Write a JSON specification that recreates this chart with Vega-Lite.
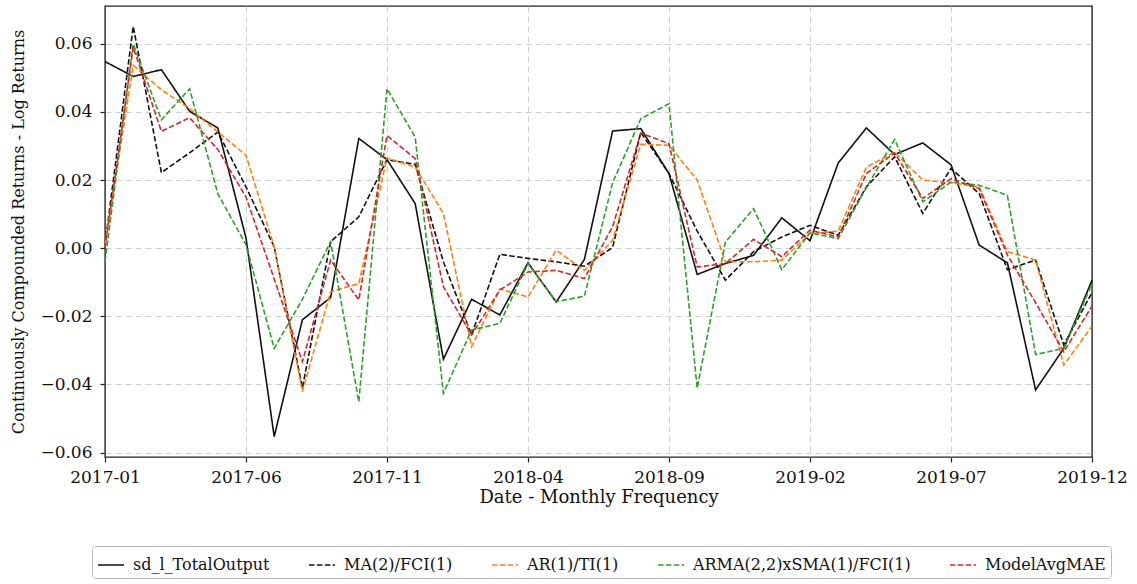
{
  "$schema": "https://vega.github.io/schema/vega-lite/v6.json",
  "width": 987,
  "height": 451,
  "autosize": "none",
  "padding": {"left": 105, "top": 6, "right": 45, "bottom": 127},
  "background": "white",
  "config": {
    "view": {"stroke": "#222", "strokeWidth": 1.4},
    "font": "DejaVu Serif"
  },
  "data": {
    "values": [
      {"month": "2017-01", "sd_l_TotalOutput": 0.0548, "MA(2)/FCI(1)": 0.001, "AR(1)/TI(1)": 0.001, "ARMA(2,2)xSMA(1)/FCI(1)": -0.004, "ModelAvgMAE": 0.0},
      {"month": "2017-02", "sd_l_TotalOutput": 0.0504, "MA(2)/FCI(1)": 0.0651, "AR(1)/TI(1)": 0.0537, "ARMA(2,2)xSMA(1)/FCI(1)": 0.06, "ModelAvgMAE": 0.059},
      {"month": "2017-03", "sd_l_TotalOutput": 0.0524, "MA(2)/FCI(1)": 0.0222, "AR(1)/TI(1)": 0.0465, "ARMA(2,2)xSMA(1)/FCI(1)": 0.0377, "ModelAvgMAE": 0.0343},
      {"month": "2017-04", "sd_l_TotalOutput": 0.0402, "MA(2)/FCI(1)": 0.028, "AR(1)/TI(1)": 0.041, "ARMA(2,2)xSMA(1)/FCI(1)": 0.0468, "ModelAvgMAE": 0.0383},
      {"month": "2017-05", "sd_l_TotalOutput": 0.0353, "MA(2)/FCI(1)": 0.0341, "AR(1)/TI(1)": 0.0341, "ARMA(2,2)xSMA(1)/FCI(1)": 0.016, "ModelAvgMAE": 0.029},
      {"month": "2017-06", "sd_l_TotalOutput": 0.003, "MA(2)/FCI(1)": 0.018, "AR(1)/TI(1)": 0.0273, "ARMA(2,2)xSMA(1)/FCI(1)": 0.001, "ModelAvgMAE": 0.015},
      {"month": "2017-07", "sd_l_TotalOutput": -0.0553, "MA(2)/FCI(1)": 0.0004, "AR(1)/TI(1)": 0.0004, "ARMA(2,2)xSMA(1)/FCI(1)": -0.0294, "ModelAvgMAE": -0.009},
      {"month": "2017-08", "sd_l_TotalOutput": -0.021, "MA(2)/FCI(1)": -0.041, "AR(1)/TI(1)": -0.0421, "ARMA(2,2)xSMA(1)/FCI(1)": -0.015, "ModelAvgMAE": -0.0333},
      {"month": "2017-09", "sd_l_TotalOutput": -0.0145, "MA(2)/FCI(1)": 0.0019, "AR(1)/TI(1)": -0.0128, "ARMA(2,2)xSMA(1)/FCI(1)": 0.0019, "ModelAvgMAE": -0.0035},
      {"month": "2017-10", "sd_l_TotalOutput": 0.0322, "MA(2)/FCI(1)": 0.0092, "AR(1)/TI(1)": -0.0104, "ARMA(2,2)xSMA(1)/FCI(1)": -0.0451, "ModelAvgMAE": -0.0152},
      {"month": "2017-11", "sd_l_TotalOutput": 0.026, "MA(2)/FCI(1)": 0.026, "AR(1)/TI(1)": 0.0265, "ARMA(2,2)xSMA(1)/FCI(1)": 0.0468, "ModelAvgMAE": 0.0331},
      {"month": "2017-12", "sd_l_TotalOutput": 0.0131, "MA(2)/FCI(1)": 0.0246, "AR(1)/TI(1)": 0.0238, "ARMA(2,2)xSMA(1)/FCI(1)": 0.0326, "ModelAvgMAE": 0.0263},
      {"month": "2018-01", "sd_l_TotalOutput": -0.0326, "MA(2)/FCI(1)": -0.004, "AR(1)/TI(1)": 0.0102, "ARMA(2,2)xSMA(1)/FCI(1)": -0.0426, "ModelAvgMAE": -0.0113},
      {"month": "2018-02", "sd_l_TotalOutput": -0.015, "MA(2)/FCI(1)": -0.0255, "AR(1)/TI(1)": -0.0289, "ARMA(2,2)xSMA(1)/FCI(1)": -0.024, "ModelAvgMAE": -0.0255},
      {"month": "2018-03", "sd_l_TotalOutput": -0.0196, "MA(2)/FCI(1)": -0.0018, "AR(1)/TI(1)": -0.012, "ARMA(2,2)xSMA(1)/FCI(1)": -0.0221, "ModelAvgMAE": -0.0123},
      {"month": "2018-04", "sd_l_TotalOutput": -0.0043, "MA(2)/FCI(1)": -0.003, "AR(1)/TI(1)": -0.0143, "ARMA(2,2)xSMA(1)/FCI(1)": -0.0045, "ModelAvgMAE": -0.007},
      {"month": "2018-05", "sd_l_TotalOutput": -0.0158, "MA(2)/FCI(1)": -0.004, "AR(1)/TI(1)": -0.0006, "ARMA(2,2)xSMA(1)/FCI(1)": -0.0157, "ModelAvgMAE": -0.0065},
      {"month": "2018-06", "sd_l_TotalOutput": -0.0033, "MA(2)/FCI(1)": -0.0053, "AR(1)/TI(1)": -0.0065, "ARMA(2,2)xSMA(1)/FCI(1)": -0.0141, "ModelAvgMAE": -0.0089},
      {"month": "2018-07", "sd_l_TotalOutput": 0.0344, "MA(2)/FCI(1)": 0.0002, "AR(1)/TI(1)": 0.0023, "ARMA(2,2)xSMA(1)/FCI(1)": 0.0192, "ModelAvgMAE": 0.0063},
      {"month": "2018-08", "sd_l_TotalOutput": 0.0351, "MA(2)/FCI(1)": 0.034, "AR(1)/TI(1)": 0.0305, "ARMA(2,2)xSMA(1)/FCI(1)": 0.038, "ModelAvgMAE": 0.0338},
      {"month": "2018-09", "sd_l_TotalOutput": 0.0219, "MA(2)/FCI(1)": 0.0219, "AR(1)/TI(1)": 0.0302, "ARMA(2,2)xSMA(1)/FCI(1)": 0.0424, "ModelAvgMAE": 0.0307},
      {"month": "2018-10", "sd_l_TotalOutput": -0.0077, "MA(2)/FCI(1)": 0.005, "AR(1)/TI(1)": 0.02, "ARMA(2,2)xSMA(1)/FCI(1)": -0.0411, "ModelAvgMAE": -0.0055},
      {"month": "2018-11", "sd_l_TotalOutput": -0.0045, "MA(2)/FCI(1)": -0.0094, "AR(1)/TI(1)": -0.004, "ARMA(2,2)xSMA(1)/FCI(1)": 0.0018, "ModelAvgMAE": -0.0045},
      {"month": "2018-12", "sd_l_TotalOutput": -0.0021, "MA(2)/FCI(1)": -0.001, "AR(1)/TI(1)": -0.004, "ARMA(2,2)xSMA(1)/FCI(1)": 0.0116, "ModelAvgMAE": 0.0026},
      {"month": "2019-01", "sd_l_TotalOutput": 0.0089, "MA(2)/FCI(1)": 0.0033, "AR(1)/TI(1)": -0.0035, "ARMA(2,2)xSMA(1)/FCI(1)": -0.0063, "ModelAvgMAE": -0.0025},
      {"month": "2019-02", "sd_l_TotalOutput": 0.0022, "MA(2)/FCI(1)": 0.0067, "AR(1)/TI(1)": 0.0043, "ARMA(2,2)xSMA(1)/FCI(1)": 0.0045, "ModelAvgMAE": 0.0053},
      {"month": "2019-03", "sd_l_TotalOutput": 0.025, "MA(2)/FCI(1)": 0.0038, "AR(1)/TI(1)": 0.005, "ARMA(2,2)xSMA(1)/FCI(1)": 0.0028, "ModelAvgMAE": 0.0033},
      {"month": "2019-04", "sd_l_TotalOutput": 0.0353, "MA(2)/FCI(1)": 0.018, "AR(1)/TI(1)": 0.0238, "ARMA(2,2)xSMA(1)/FCI(1)": 0.0178, "ModelAvgMAE": 0.0219},
      {"month": "2019-05", "sd_l_TotalOutput": 0.0275, "MA(2)/FCI(1)": 0.0268, "AR(1)/TI(1)": 0.0282, "ARMA(2,2)xSMA(1)/FCI(1)": 0.0319, "ModelAvgMAE": 0.028},
      {"month": "2019-06", "sd_l_TotalOutput": 0.0309, "MA(2)/FCI(1)": 0.0102, "AR(1)/TI(1)": 0.02, "ARMA(2,2)xSMA(1)/FCI(1)": 0.0136, "ModelAvgMAE": 0.0146},
      {"month": "2019-07", "sd_l_TotalOutput": 0.0245, "MA(2)/FCI(1)": 0.0234, "AR(1)/TI(1)": 0.0192, "ARMA(2,2)xSMA(1)/FCI(1)": 0.0194, "ModelAvgMAE": 0.0204},
      {"month": "2019-08", "sd_l_TotalOutput": 0.0009, "MA(2)/FCI(1)": 0.016, "AR(1)/TI(1)": 0.018, "ARMA(2,2)xSMA(1)/FCI(1)": 0.0185, "ModelAvgMAE": 0.0175},
      {"month": "2019-09", "sd_l_TotalOutput": -0.0043, "MA(2)/FCI(1)": -0.0063, "AR(1)/TI(1)": -0.001, "ARMA(2,2)xSMA(1)/FCI(1)": 0.0155, "ModelAvgMAE": -0.002},
      {"month": "2019-10", "sd_l_TotalOutput": -0.0416, "MA(2)/FCI(1)": -0.0035, "AR(1)/TI(1)": -0.0035, "ARMA(2,2)xSMA(1)/FCI(1)": -0.0312, "ModelAvgMAE": -0.016},
      {"month": "2019-11", "sd_l_TotalOutput": -0.0294, "MA(2)/FCI(1)": -0.0284, "AR(1)/TI(1)": -0.0343, "ARMA(2,2)xSMA(1)/FCI(1)": -0.0294, "ModelAvgMAE": -0.0304},
      {"month": "2019-12", "sd_l_TotalOutput": -0.0094, "MA(2)/FCI(1)": -0.013, "AR(1)/TI(1)": -0.0229, "ARMA(2,2)xSMA(1)/FCI(1)": -0.0104, "ModelAvgMAE": -0.017}
    ]
  },
  "transform": [
    {"fold": ["sd_l_TotalOutput", "MA(2)/FCI(1)", "AR(1)/TI(1)", "ARMA(2,2)xSMA(1)/FCI(1)", "ModelAvgMAE"], "as": ["series", "value"]}
  ],
  "mark": {"type": "line", "strokeWidth": 1.6},
  "encoding": {
    "x": {
      "field": "month",
      "type": "ordinal",
      "sort": null,
      "scale": {"type": "point", "padding": 0},
      "axis": {
        "values": ["2017-01", "2017-06", "2017-11", "2018-04", "2018-09", "2019-02", "2019-07", "2019-12"],
        "labelAngle": 0,
        "labelAlign": "center",
        "labelFlush": false,
        "labelFontSize": 17,
        "labelColor": "#111",
        "labelPadding": 7,
        "tickSize": 5,
        "tickColor": "#222",
        "tickWidth": 1.2,
        "domain": false,
        "grid": true,
        "gridDash": [6, 4],
        "gridColor": "#cfcfcf",
        "gridWidth": 1,
        "gridOpacity": {"condition": {"test": "datum.value === '2017-01' || datum.value === '2019-12'", "value": 0}, "value": 1},
        "title": "Date - Monthly Frequency",
        "titleFontSize": 18,
        "titleFontWeight": "normal",
        "titleColor": "#111",
        "titlePadding": 3
      }
    },
    "y": {
      "field": "value",
      "type": "quantitative",
      "scale": {"domain": [-0.0613, 0.0711], "nice": false, "zero": false},
      "axis": {
        "values": [-0.06, -0.04, -0.02, 0, 0.02, 0.04, 0.06],
        "format": ".2f",
        "labelFontSize": 17,
        "labelColor": "#111",
        "labelPadding": 8,
        "tickSize": 5,
        "tickColor": "#222",
        "tickWidth": 1.2,
        "domain": false,
        "grid": true,
        "gridDash": [6, 4],
        "gridColor": "#cfcfcf",
        "gridWidth": 1,
        "title": "Continuously Compounded Returns - Log Returns",
        "titleFontSize": 16,
        "titleFontWeight": "normal",
        "titleColor": "#111",
        "titlePadding": 13
      }
    },
    "color": {
      "field": "series",
      "type": "nominal",
      "sort": ["sd_l_TotalOutput", "MA(2)/FCI(1)", "AR(1)/TI(1)", "ARMA(2,2)xSMA(1)/FCI(1)", "ModelAvgMAE"],
      "scale": {
        "domain": ["sd_l_TotalOutput", "MA(2)/FCI(1)", "AR(1)/TI(1)", "ARMA(2,2)xSMA(1)/FCI(1)", "ModelAvgMAE"],
        "range": ["#111111", "#111111", "#ff7f0e", "#2ca02c", "#d62728"]
      },
      "legend": {
        "orient": "none",
        "legendX": -13,
        "legendY": 540,
        "direction": "horizontal",
        "title": null,
        "symbolType": "stroke",
        "symbolSize": 676,
        "symbolStrokeWidth": 1.6,
        "labelFont": "DejaVu Serif",
        "labelFontSize": 16,
        "labelColor": "#111",
        "labelLimit": 400,
        "labelOffset": 8,
        "columnPadding": 35,
        "padding": 5,
        "strokeColor": "#bbbbbb",
        "fillColor": "white",
        "cornerRadius": 3
      }
    },
    "strokeDash": {
      "field": "series",
      "type": "nominal",
      "sort": ["sd_l_TotalOutput", "MA(2)/FCI(1)", "AR(1)/TI(1)", "ARMA(2,2)xSMA(1)/FCI(1)", "ModelAvgMAE"],
      "scale": {
        "domain": ["sd_l_TotalOutput", "MA(2)/FCI(1)", "AR(1)/TI(1)", "ARMA(2,2)xSMA(1)/FCI(1)", "ModelAvgMAE"],
        "range": [[1, 0], [5.5, 2.4], [5.5, 2.4], [5.5, 2.4], [5.5, 2.4]]
      }
    }
  }
}
